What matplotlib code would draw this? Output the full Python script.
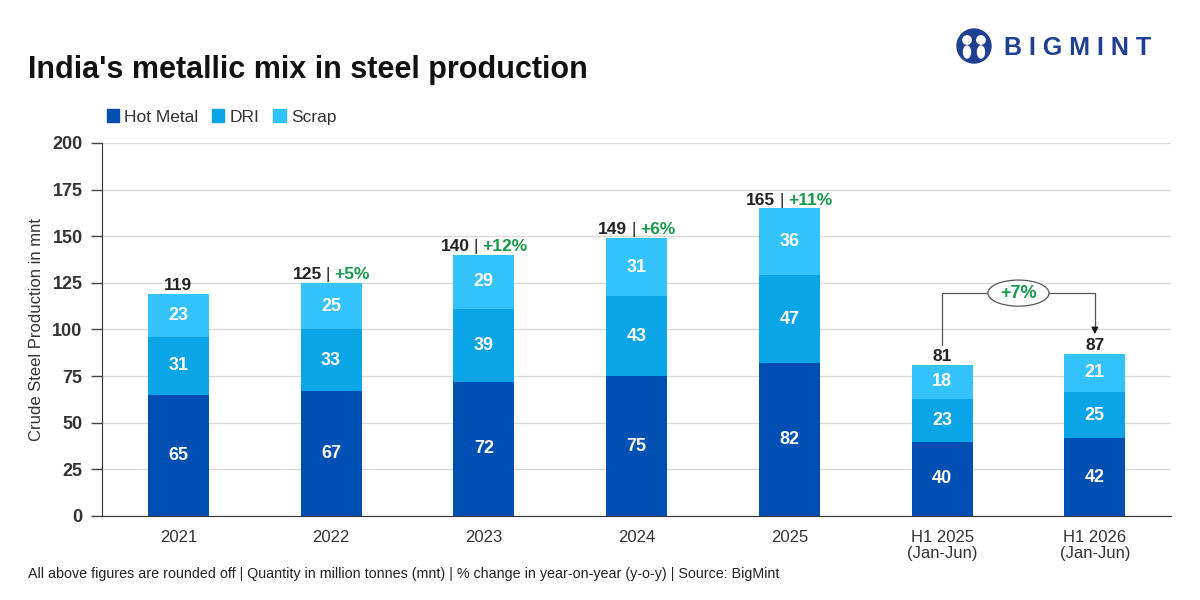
import numpy as np
import matplotlib
matplotlib.use("Agg")
import matplotlib.pyplot as plt
from matplotlib.patches import Ellipse, Circle, Patch
from matplotlib.offsetbox import TextArea, HPacker, AnnotationBbox

plt.rcParams['font.family'] = ['Liberation Sans', 'DejaVu Sans']

# ---------------- data ----------------
categories = ['2021', '2022', '2023', '2024', '2025', 'H1 2025\n(Jan-Jun)', 'H1 2026\n(Jan-Jun)']
hot_metal = [65, 67, 72, 75, 82, 39.7, 41.7]
dri = [31, 33, 39, 43, 47, 23.0, 24.6]
scrap = [23, 25, 29, 31, 36, 18.3, 20.8]
totals = [119, 125, 140, 149, 165, 81, 87]
yoy = ['', '+5%', '+12%', '+6%', '+11%', '', '']
h1_change = '+7%'

c_hot = '#0050b4'
c_dri = '#0aa5e6'
c_scrap = '#33c3fa'
c_green = '#17994a'
c_dark = '#222222'

fig = plt.figure(figsize=(12, 6), dpi=100)
ax = fig.add_axes([0.085, 0.14, 0.891, 0.6217])

x = np.arange(len(categories))
w = 0.4
hot = np.array(hot_metal)
d = np.array(dri)
s = np.array(scrap)
ax.bar(x, hot, w, color=c_hot, zorder=3, label='Hot Metal')
ax.bar(x, d, w, bottom=hot, color=c_dri, zorder=3, label='DRI')
ax.bar(x, s, w, bottom=hot + d, color=c_scrap, zorder=3, label='Scrap')

# segment labels
for i in range(len(x)):
    for bot, val in [(0, hot[i]), (hot[i], d[i]), (hot[i] + d[i], s[i])]:
        ax.text(x[i], bot + val / 2, '%d' % round(val), ha='center', va='center',
                color='white', fontsize=13, fontweight='bold', zorder=4)

# total labels with y-o-y change
for i in range(len(x)):
    top = hot[i] + d[i] + s[i]
    parts = [TextArea('%d' % totals[i], textprops=dict(color=c_dark, fontsize=12.5, fontweight='bold'))]
    if yoy[i]:
        parts.append(TextArea('|', textprops=dict(color=c_dark, fontsize=12.5)))
        parts.append(TextArea(yoy[i], textprops=dict(color=c_green, fontsize=12.5, fontweight='bold')))
    box = HPacker(children=parts, align='baseline', pad=0, sep=3)
    ab = AnnotationBbox(box, (x[i], top), xybox=(0, 0.5), xycoords='data',
                        boxcoords='offset points', box_alignment=(0.5, 0), frameon=False)
    ax.add_artist(ab)

# H1 comparison connector
ylev = 119.5
ax.plot([5, 5, 5.3], [91.5, ylev, ylev], color='#555555', lw=0.9, zorder=5)
ax.plot([5.7, 6, 6], [ylev, ylev, 100], color='#555555', lw=0.9, zorder=5)
ax.annotate('', xy=(6, 97.5), xytext=(6, 100.5),
            arrowprops=dict(arrowstyle='-|>', color='#111111', lw=0.9,
                            mutation_scale=10, shrinkA=0, shrinkB=0), zorder=5)
ax.add_patch(Ellipse((5.5, ylev), 0.4, 14, facecolor='white', edgecolor='#555555', lw=0.9, zorder=6))
ax.text(5.5, ylev, h1_change, ha='center', va='center', color=c_green,
        fontsize=13, fontweight='bold', zorder=7)

# axes styling
ax.set_xlim(-0.5, 6.5)
ax.set_ylim(0, 200)
ax.set_yticks(np.arange(0, 201, 25))
ax.set_xticks(x)
ax.set_xticklabels(categories, fontsize=12, color='#333333', linespacing=1.1)
ax.tick_params(axis='y', labelsize=13, length=8, width=1, color='#444444', pad=6)
ax.tick_params(axis='x', length=0, pad=10)
for t in ax.get_yticklabels():
    t.set_fontweight('bold')
    t.set_color('#333333')
ax.yaxis.grid(True, color='#d9d9d9', lw=1, zorder=0)
ax.spines['top'].set_visible(False)
ax.spines['right'].set_visible(False)
ax.spines['left'].set_color('#333333')
ax.spines['bottom'].set_color('#333333')
ax.set_ylabel('Crude Steel Production in mnt', fontsize=12, color='#333333', labelpad=6)

# legend
handles = [Patch(color=c_hot, label='Hot Metal'), Patch(color=c_dri, label='DRI'),
           Patch(color=c_scrap, label='Scrap')]
fig.legend(handles=handles, loc='center left', bbox_to_anchor=(0.076, 0.805), ncol=3,
           frameon=False, fontsize=12.5, handlelength=0.7, handleheight=0.7,
           handletextpad=0.3, columnspacing=0.8, labelcolor='#333333')

# title, footer
fig.text(0.023, 0.883, "India's metallic mix in steel production", fontsize=22,
         fontweight='bold', color='#111111', va='center')
fig.text(0.023, 0.043, 'All above figures are rounded off | Quantity in million tonnes (mnt) | '
         '% change in year-on-year (y-o-y) | Source: BigMint', fontsize=10.3, color='#222222',
         va='center')

# logo
logo_blue = '#1f3f93'
lax = fig.add_axes([0.795, 0.88, 0.2, 0.08])
lax.set_xlim(0, 240)
lax.set_ylim(0, 48)
lax.set_aspect('equal')
lax.axis('off')
lax.add_patch(Circle((20, 26), 17, color=logo_blue))
for hx in (13, 27):
    lax.add_patch(Circle((hx, 32), 4.2, color='white'))
    lax.add_patch(Ellipse((hx, 20), 7, 12, color='white'))
lax.text(50, 24, 'B I G M I N T', fontsize=18, fontweight='bold', color=logo_blue,
         va='center', ha='left')

fig.savefig('out.png', dpi=100)
